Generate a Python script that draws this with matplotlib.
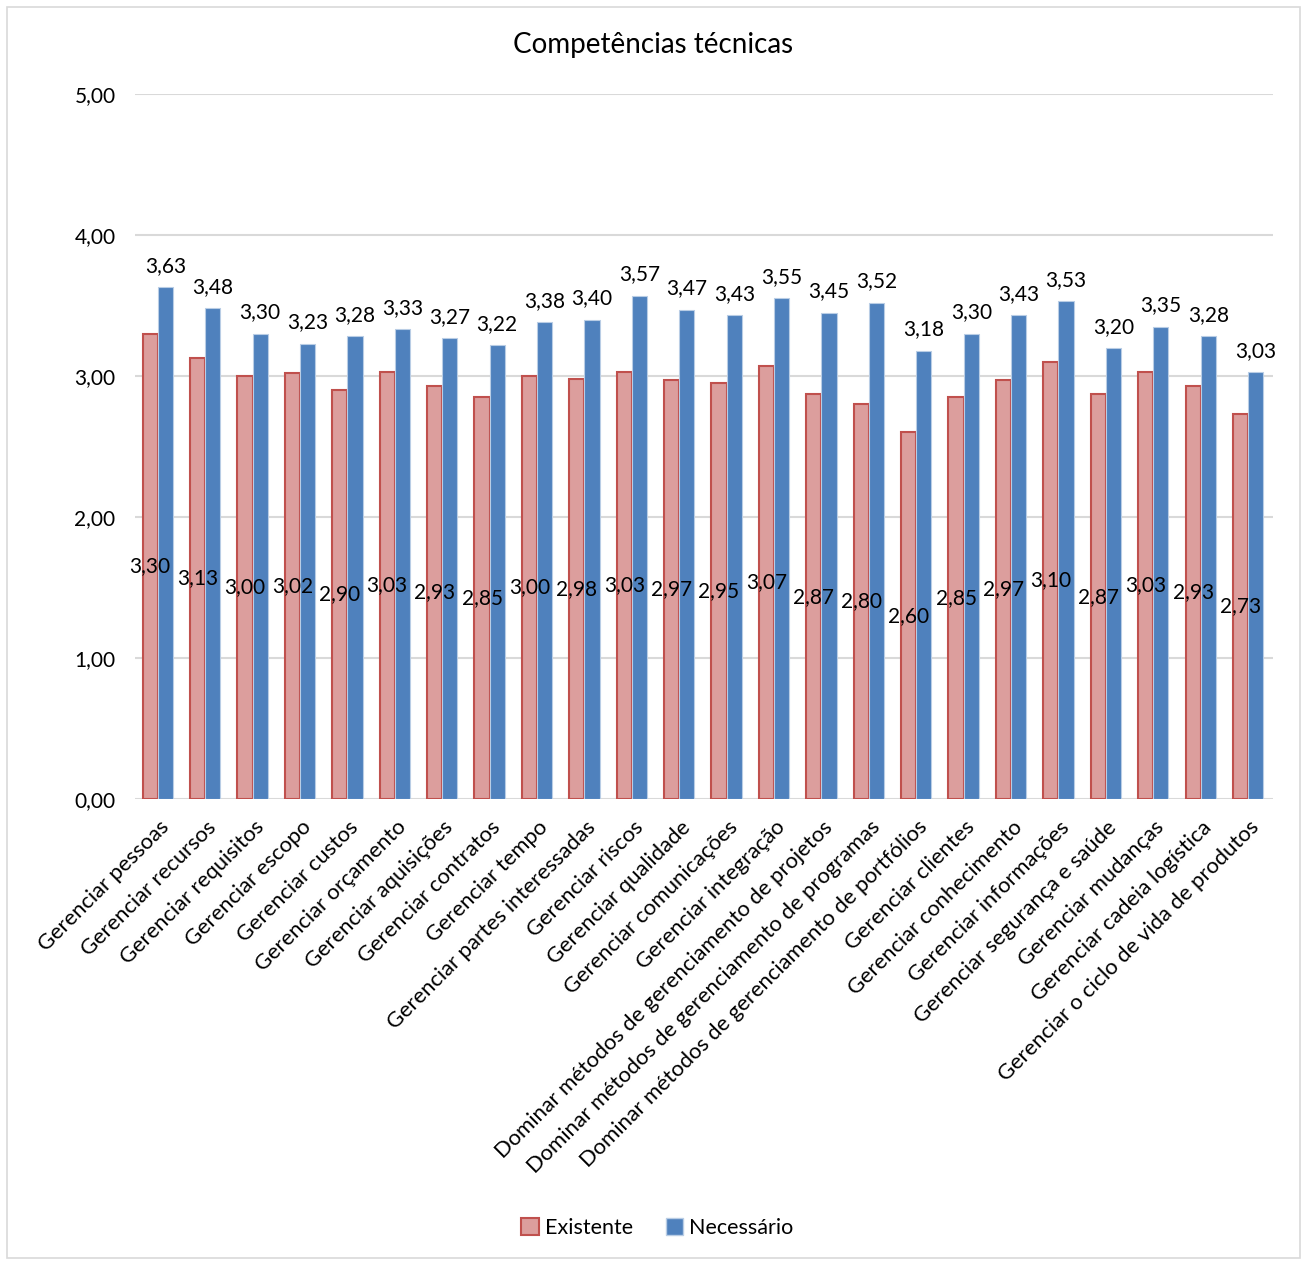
import matplotlib.pyplot as plt
import numpy as np
from matplotlib.patches import Rectangle, Patch

plt.rcParams['font.family'] = ['Lato', 'DejaVu Sans']

# Data
categories = [
    "Gerenciar pessoas", "Gerenciar recursos", "Gerenciar requisitos",
    "Gerenciar escopo", "Gerenciar custos", "Gerenciar orçamento",
    "Gerenciar aquisições", "Gerenciar contratos", "Gerenciar tempo",
    "Gerenciar partes interessadas", "Gerenciar riscos", "Gerenciar qualidade",
    "Gerenciar comunicações", "Gerenciar integração",
    "Dominar métodos de gerenciamento de projetos",
    "Dominar métodos de gerenciamento de programas",
    "Dominar métodos de gerenciamento de portfólios",
    "Gerenciar clientes", "Gerenciar conhecimento", "Gerenciar informações",
    "Gerenciar segurança e saúde", "Gerenciar mudanças",
    "Gerenciar cadeia logística", "Gerenciar o ciclo de vida de produtos",
]
existente = [3.30, 3.13, 3.00, 3.02, 2.90, 3.03, 2.93, 2.85, 3.00, 2.98, 3.03, 2.97,
             2.95, 3.07, 2.87, 2.80, 2.60, 2.85, 2.97, 3.10, 2.87, 3.03, 2.93, 2.73]
necessario = [3.63, 3.48, 3.30, 3.23, 3.28, 3.33, 3.27, 3.22, 3.38, 3.40, 3.57, 3.47,
              3.43, 3.55, 3.45, 3.52, 3.18, 3.30, 3.43, 3.53, 3.20, 3.35, 3.28, 3.03]
yticks = [0, 1, 2, 3, 4, 5]

RED_FACE = '#DC9E9D'
RED_EDGE = '#C0504D'
BLUE_FACE = '#4F81BD'
BLUE_EDGE = '#B9CDE5'


def fmt(v):
    return f"{v:.2f}".replace('.', ',')


fig = plt.figure(figsize=(13.07, 12.61), dpi=100)
ax = fig.add_axes([0.1033, 0.3664, 0.8705, 0.5591])

x = np.arange(len(categories))
w = 0.32
bars_e = ax.bar(x - 0.18, existente, w, color=RED_FACE, edgecolor=RED_EDGE,
                linewidth=1.5, zorder=3)
bars_n = ax.bar(x + 0.14, necessario, w, color=BLUE_FACE, edgecolor=BLUE_EDGE,
                linewidth=0.8, zorder=3)

for b, v in zip(bars_e, existente):
    ax.text(b.get_x() + b.get_width() / 2, v / 2, fmt(v), ha='center', va='center',
            fontsize=15, zorder=4)
for b, v in zip(bars_n, necessario):
    ax.annotate(fmt(v), (b.get_x() + b.get_width() / 2, v), xytext=(0, 8),
                textcoords='offset points', ha='center', va='bottom', fontsize=15)

ax.set_xlim(-0.5, len(categories) - 0.5)
ax.set_ylim(0, 5)
ax.set_yticks(yticks)
ax.set_yticklabels([fmt(t) for t in yticks], fontsize=15)
ax.set_xticks(x)
ax.set_xticklabels(categories, rotation=45, ha='right', rotation_mode='anchor',
                   fontsize=15.8)
ax.tick_params(length=0, pad=14)
ax.tick_params(axis='x', pad=13)
ax.grid(axis='y', color='#D9D9D9', linewidth=1.5, zorder=0)
for s in ax.spines.values():
    s.set_visible(False)

fig.text(0.5, 0.964, "Competências técnicas", ha='center', va='center', fontsize=20)

handles = [Patch(facecolor=RED_FACE, edgecolor=RED_EDGE, linewidth=1.5),
           Patch(facecolor=BLUE_FACE, edgecolor=BLUE_EDGE)]
fig.legend(handles, ["Existente", "Necessário"], loc='center', ncol=2,
           bbox_to_anchor=(0.503, 0.026), frameon=False, fontsize=15.5,
           handlelength=0.8, handleheight=0.8, handletextpad=0.3, columnspacing=1.5)

fig.patches.append(Rectangle((7 / 1307, 3 / 1261), 1293 / 1307, 1251 / 1261,
                             transform=fig.transFigure, fill=False,
                             edgecolor='#D9D9D9', linewidth=1.2))

fig.savefig('out.png', dpi=100)
